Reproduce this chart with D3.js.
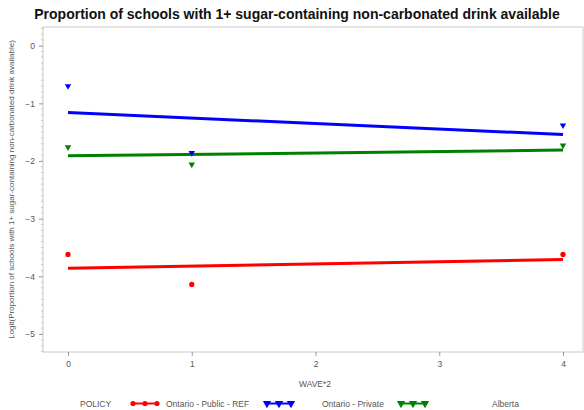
<!DOCTYPE html>
<html>
<head>
<meta charset="utf-8">
<script src="https://cdn.jsdelivr.net/npm/d3@7"></script>
<style>
  html, body { margin: 0; padding: 0; background: #fff; }
  svg { display: block; font-family: "Liberation Sans", Arial, sans-serif; }
</style>
</head>
<body>
<svg id="chart" width="584" height="410"></svg>
<script>
// Observed logits per wave (WAVE*2 = 0, 1, 4)
const waves = [0, 1, 4];
const policies = ["Ontario - Public - REF", "Ontario - Private", "Alberta"];
const observedPublic = [-3.62, -4.14, -3.62];
const observedPrivate = [-0.70, -1.86, -1.38];
const observedAlberta = [-1.76, -2.06, -1.73];
// Fitted linear trend: value at WAVE*2 = 0 and at WAVE*2 = 4
const fitEnds = [0, 4];
const fittedPublic = [-3.86, -3.71];
const fittedPrivate = [-1.16, -1.54];
const fittedAlberta = [-1.91, -1.81];
const xTicks = [0, 1, 2, 3, 4];
const yTicks = [0, -1, -2, -3, -4, -5];

const colors = ["#ff0000", "#0000ff", "#008000"];
const series = [
  { name: policies[0], obs: observedPublic, fit: fittedPublic, color: colors[0], marker: "circle" },
  { name: policies[1], obs: observedPrivate, fit: fittedPrivate, color: colors[1], marker: "triangle" },
  { name: policies[2], obs: observedAlberta, fit: fittedAlberta, color: colors[2], marker: "triangle" }
];

const svg = d3.select("#chart");
const frame = { left: 43, top: 27, right: 583, bottom: 352 };

const x = d3.scaleLinear().domain([0, 4]).range([68, 563]);
const y = d3.scaleLinear().domain([0, -5]).range([45.7, 334]);

// Title
svg.append("text")
  .attr("x", 297).attr("y", 19)
  .attr("text-anchor", "middle")
  .attr("font-weight", "bold")
  .attr("font-size", 14)
  .attr("fill", "#111")
  .text("Proportion of schools with 1+ sugar-containing non-carbonated drink available");

// Plot frame
svg.append("rect")
  .attr("x", frame.left).attr("y", frame.top)
  .attr("width", frame.right - frame.left).attr("height", frame.bottom - frame.top)
  .attr("fill", "none").attr("stroke", "#c8c8c8").attr("stroke-width", 1);

// Y axis
const yAxis = d3.axisLeft(y).tickValues(yTicks).tickSize(4).tickPadding(4)
  .tickFormat(d3.format("d"));
const gy = svg.append("g").attr("transform", `translate(${frame.left},0)`).call(yAxis);
gy.select(".domain").remove();
gy.selectAll(".tick line").attr("stroke", "#999");
gy.selectAll(".tick text").attr("font-size", 8.5).attr("fill", "#555")
  .attr("font-family", "Liberation Sans, Arial, sans-serif");

// Minor ticks on the y axis
const minor = d3.range(0.3, -5.31, -0.1).map(v => Math.round(v * 10) / 10);
svg.append("g").selectAll("line").data(minor).join("line")
  .attr("x1", frame.left - 2).attr("x2", frame.left)
  .attr("y1", d => y(d)).attr("y2", d => y(d))
  .attr("stroke", "#bbb").attr("stroke-width", 0.8);

// X axis
const xAxis = d3.axisBottom(x).tickValues(xTicks).tickSize(4).tickPadding(5)
  .tickFormat(d3.format("d"));
const gx = svg.append("g").attr("transform", `translate(0,${frame.bottom})`).call(xAxis);
gx.select(".domain").remove();
gx.selectAll(".tick line").attr("stroke", "#999");
gx.selectAll(".tick text").attr("font-size", 8.5).attr("fill", "#555")
  .attr("font-family", "Liberation Sans, Arial, sans-serif");

// Axis titles
svg.append("text")
  .attr("x", 315).attr("y", 387)
  .attr("text-anchor", "middle").attr("font-size", 8.5).attr("fill", "#555")
  .text("WAVE*2");
svg.append("text")
  .attr("transform", `translate(14,${(frame.top + frame.bottom) / 2}) rotate(-90)`)
  .attr("text-anchor", "middle").attr("font-size", 8).attr("fill", "#555")
  .text("Logit(Proportion of schools with 1+ sugar-containing non-carbonated drink available)");

// Fitted lines
const line = d3.line().x(d => x(d[0])).y(d => y(d[1]));
svg.append("g").selectAll("path").data(series).join("path")
  .attr("d", s => line(fitEnds.map((w, i) => [w, s.fit[i]])))
  .attr("fill", "none").attr("stroke", s => s.color)
  .attr("stroke-width", 3).attr("stroke-linecap", "butt");

// Markers
function drawMarker(g, s, cx, cy, size) {
  if (s.marker === "circle") {
    g.append("circle").attr("cx", cx).attr("cy", cy).attr("r", 2.6).attr("fill", s.color);
  } else {
    g.append("path").attr("d", d3.symbol().type(d3.symbolTriangle).size(size))
      .attr("transform", `translate(${cx},${cy}) rotate(180)`).attr("fill", s.color);
  }
}
const mg = svg.append("g");
series.forEach(s => {
  waves.forEach((w, i) => drawMarker(mg, s, x(w), y(s.obs[i]), 18));
});

// Legend
const lg = svg.append("g").attr("font-size", 8.5).attr("fill", "#555");
lg.append("text").attr("x", 80).attr("y", 406.5).text("POLICY");
const legendItems = [
  { s: series[0], x0: 132, tx: 166 },
  { s: series[1], x0: 266, tx: 322 },
  { s: series[2], x0: 400, tx: 492 }
];
legendItems.forEach(it => {
  const ly = 403.5;
  lg.append("line").attr("x1", it.x0).attr("x2", it.x0 + 26)
    .attr("y1", ly).attr("y2", ly).attr("stroke", it.s.color).attr("stroke-width", 2);
  [1, 13, 25].forEach(dx => drawMarker(lg, it.s, it.x0 + dx, ly, 30));
  lg.append("text").attr("x", it.tx).attr("y", 406.5).text(it.s.name);
});
</script>
</body>
</html>
